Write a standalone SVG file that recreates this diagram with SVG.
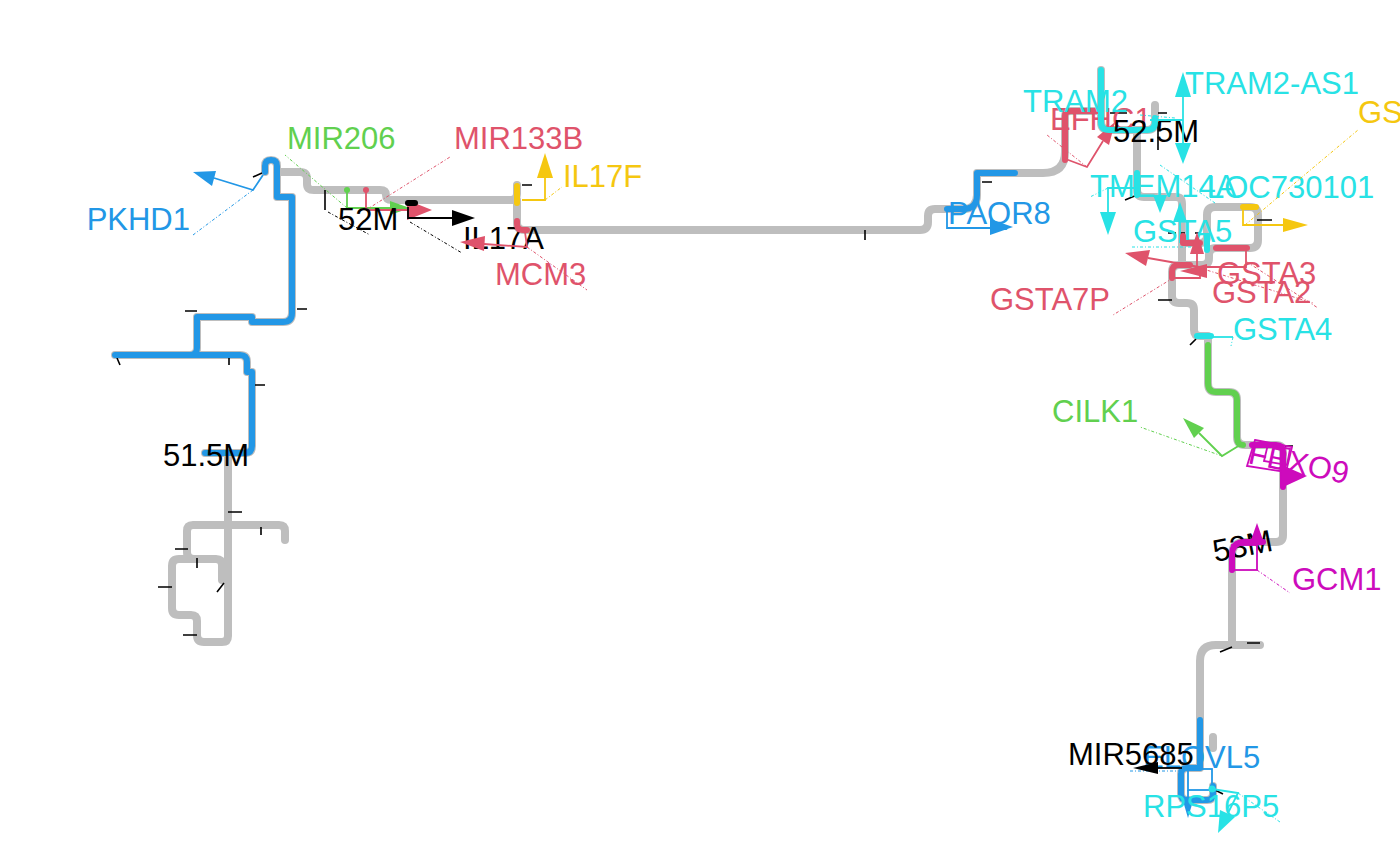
<svg xmlns="http://www.w3.org/2000/svg" width="1400" height="866" viewBox="0 0 1400 866">
<style>
.p{fill:none;stroke:#BEBEBE;stroke-width:8;stroke-linecap:round;stroke-linejoin:round}
.s{fill:none;stroke-width:6;stroke-linecap:round;stroke-linejoin:round}
.t{stroke:#000;stroke-width:1.6;fill:none}
.l{fill:none;stroke-width:1;stroke-dasharray:3 2 1 2}
.g{fill:none;stroke-width:1.8}
text{font-family:"Liberation Sans",Arial,Helvetica,sans-serif;font-size:31px}
.blue{stroke:#2297E6}.green{stroke:#61D04F}.red{stroke:#DF536B}.cyan{stroke:#28E2E5}.mag{stroke:#CD0BBC}.yel{stroke:#F5C710}.blk{stroke:#000}
.fblue{fill:#2297E6}.fgreen{fill:#61D04F}.fred{fill:#DF536B}.fcyan{fill:#28E2E5}.fmag{fill:#CD0BBC}.fyel{fill:#F5C710}.fblk{fill:#000}
</style>
<rect width="1400" height="866" fill="#fff"/>
<g id="connectors">
<path class="p" d="M285,540 V531 Q285,525 279,525 H193 Q187,525 187,531 V552 Q187,559 194,559"/>
<path class="p" d="M222,580 V565 Q222,559 216,559 H179 Q172,559 172,566 V608 Q172,615 179,615 H191 Q197,615 197,621 V635 Q197,642 204,642 H222 Q228,642 228,636 V453"/>
<path class="p" d="M205,453 H245 Q252,453 252,446 V372 H247 V362 Q247,355 240,355 H115 M190,355 Q197,355 197,348 V317 H252 V322 H283 Q292,322 292,313 V197 H277 V166 Q277,160 271,160 Q265,160 265,166 V172"/>
<path class="p" d="M277,172 H300 Q307,172 307,179 V184 Q307,190 314,190 H380 Q386,190 386,195 Q386,200 392,200 H511 Q517,200 517,194 V185 M517,200 V223 Q517,230 524,230 H920 Q928,230 928,222 V216 Q928,209 935,209 H963 Q977,209 977,195 V173 H1043 Q1065,173 1065,152 V116 Q1065,111 1071,111 H1101"/>
<path class="p" d="M1101,70 V122 Q1101,130 1109,130 H1147 Q1155,130 1155,122 V105 M1137,130 V190 Q1137,197 1144,197 H1176 Q1182,197 1182,204 V262"/>
<path class="p" d="M1182,243 H1200 Q1207,243 1207,236 V215 Q1207,207 1215,207 H1250 Q1258,207 1258,215 V240 Q1258,248 1250,248 H1216 Q1209,248 1209,255 V258 Q1209,265 1202,265 H1179 Q1172,265 1172,272 V296 Q1172,303 1179,303 H1187 Q1194,303 1194,310 V330 Q1194,336 1200,336 H1208 V383 Q1208,392 1216,392 H1229 Q1237,392 1237,400 V437 Q1237,445 1245,445 H1276 Q1283,445 1283,452 V535 Q1283,542 1276,542 H1245 Q1232,542 1232,555 V645 M1260,645 H1216 Q1200,645 1200,661 V768 H1187 Q1181,768 1181,774 V794 Q1181,800 1187,800 H1207 Q1213,800 1213,794 V786 M1213,737 V748"/>
</g>
<g id="ticks">
<path class="t" d="M253,177 L262,173 M280,198 H290 M297,309 H307 M185,311 H197 M117,358 L120,365 M229,358 V365 M255,385 H265 M228,512 H242 M261,527 V535 M175,549 H188 M197,558 V568 M158,587 H172 M217,592 L224,583 M183,635 H197 M325,190 V210 M522,185 H532 M865,230 V240 M982,182 H992 M1110,113 H1127 M1158,113 H1167 M1158,122 V150 M1125,200 L1137,195 M1168,233 H1176 M1180,233 H1185 M1195,233 H1200 M1257,220 H1272 M1158,300 H1172 M1190,345 L1196,339 M1285,446 H1293 M1247,643 H1260 M1220,652 L1232,647 M1215,790 L1223,794"/>
<path class="l blk" d="M328,212 L370,235"/>
</g>
<g id="PKHD1">
<path class="s blue" d="M205,453 H245 Q252,453 252,446 V372 H247 V362 Q247,355 240,355 H115 M190,355 Q197,355 197,348 V317 H252 V322 H283 Q292,322 292,313 V197 H277 V166 Q277,160 271,160 Q265,160 265,166 V172"/>
<path class="g blue" d="M263,175 L253,190 L214,178"/>
<polygon class="fblue" points="193,172 216,171 212,186"/>
<path class="l blue" d="M253,190 L193,235"/>
<text x="190" y="230" text-anchor="end" fill="#2297E6">PKHD1</text>
</g>
<g id="MIR206">
<path class="g green" d="M347,208 V192 M347,208 H392"/>
<circle cx="347" cy="190" r="3" class="fgreen"/>
<polygon class="fgreen" points="410,208 390,201 390,215"/>
<path class="l green" d="M347,208 L285,155"/>
<text x="287" y="149" fill="#61D04F">MIR206</text>
</g>
<g id="MIR133B">
<path class="g red" d="M366,210 V192 M366,210 H408"/>
<circle cx="366" cy="190" r="3" class="fred"/>
<polygon class="fred" points="432,210 407,200 407,220"/>
<path class="l red" d="M366,210 L450,157"/>
<text x="454" y="149" fill="#DF536B">MIR133B</text>
</g>
<g id="label-52M">
<text x="338" y="230" fill="#000">52M</text>
</g>
<g id="IL17A">
<path class="s blk" d="M408,203 H415"/>
<path class="g blk" d="M408,207 V218 H452"/>
<polygon class="fblk" points="475,218 452,210 452,226"/>
<path class="l blk" d="M410,222 L462,253"/>
<text x="463" y="249" fill="#000">IL17A</text>
</g>
<g id="IL17F">
<path class="s yel" d="M517,186 V203"/>
<path class="g yel" d="M522,200 H545 V176"/>
<polygon class="fyel" points="545,153 537,178 553,178"/>
<path class="l yel" d="M545,200 L562,187"/>
<text x="563" y="187" fill="#F5C710">IL17F</text>
</g>
<g id="MCM3">
<path class="s red" d="M517,221 V224 Q517,230 523,230 H527"/>
<path class="g red" d="M525,232 L527,247 L484,244"/>
<polygon class="fred" points="460,242 485,236 484,251"/>
<path class="l red" d="M527,247 L587,290"/>
<text x="495" y="285" fill="#DF536B">MCM3</text>
</g>
<g id="PAQR8">
<path class="s blue" d="M947,209 H963 Q977,209 977,195 V173 H1015"/>
<path class="g blue" d="M947,207 V228 H991"/>
<polygon class="fblue" points="1013,227 990,219 990,235"/>
<text x="948" y="224" fill="#2297E6">PAQR8</text>
</g>
<g id="EFHC1">
<path class="s red" d="M1065,160 V116 Q1065,111 1071,111 H1097"/>
<path class="g red" d="M1063,158 L1087,167 L1103,141"/>
<polygon class="fred" points="1115,122 1109,145 1097,137"/>
<path class="l red" d="M1087,167 L1047,135"/>
<text x="1050" y="130" fill="#DF536B">EFHC1</text>
</g>
<g id="TRAM2">
<text x="1023" y="112" fill="#28E2E5">TRAM2</text>
<path class="s cyan" d="M1101,70 V122 Q1101,130 1109,130 H1147 Q1155,130 1155,122 V118"/>
<path class="l cyan" d="M1140,115 L1175,118"/>
</g>
<g id="label-52.5M">
<text x="1113" y="142" fill="#000">52.5M</text>
</g>
<g id="TRAM2-AS1">
<path class="g cyan" d="M1150,120 H1183 M1183,97 V146"/>
<polygon class="fcyan" points="1183,72 1175,97 1191,97"/>
<polygon class="fcyan" points="1183,164 1175,143 1191,143"/>
<text x="1185" y="94" fill="#28E2E5">TRAM2-AS1</text>
</g>
<g id="TMEM14A">
<path class="s cyan" d="M1137,173 V195"/>
<path class="g cyan" d="M1137,188 H1108 V212 M1160,187 V196"/>
<polygon class="fcyan" points="1108,235 1100,212 1116,212"/>
<polygon class="fcyan" points="1160,213 1153,195 1167,195"/>
<path class="l cyan" d="M1108,188 L1090,197"/>
<text x="1090" y="197" fill="#28E2E5">TMEM14A</text>
</g>
<g id="LOC730101">
<path class="l cyan" d="M1160,165 L1215,203"/>
<text x="1207" y="198" fill="#28E2E5">LOC730101</text>
</g>
<g id="GS">
<path class="s yel" d="M1243,207 H1256"/>
<path class="g yel" d="M1243,207 V225 H1284"/>
<polygon class="fyel" points="1308,225 1283,218 1283,232"/>
<path class="l yel" d="M1245,225 L1358,130"/>
<text x="1358" y="123" fill="#F5C710">GS</text>
</g>
<g id="GSTA5">
<path class="s cyan" d="M1207,236 V250"/>
<path class="g cyan" d="M1180,243 V220"/>
<polygon class="fcyan" points="1180,202 1173,222 1187,222"/>
<path class="l cyan" d="M1132,247 L1207,247"/>
<text x="1133" y="242" fill="#28E2E5">GSTA5</text>
</g>
<g id="GSTA3">
<path class="s red" d="M1216,248 H1247"/>
<path class="g red" d="M1246,248 V267 H1206"/>
<polygon class="fred" points="1180,271 1207,264 1207,278"/>
<path class="l red" d="M1247,262 L1318,308"/>
<text x="1217" y="284" fill="#DF536B">GSTA3</text>
</g>
<g id="GSTA2">
<path class="s red" d="M1183,236 V243 H1200"/>
<path class="g red" d="M1197,268 V252"/>
<polygon class="fred" points="1197,232 1190,254 1204,254"/>
<path class="l red" d="M1200,268 L1313,303"/>
<text x="1212" y="303" fill="#DF536B">GSTA2</text>
</g>
<g id="GSTA7P">
<path class="s red" d="M1190,265 H1179 Q1172,265 1172,272 V278"/>
<path class="g red" d="M1172,278 H1200 V266 M1205,268 L1148,258"/>
<polygon class="fred" points="1125,253 1150,250 1146,266"/>
<path class="l red" d="M1173,278 L1113,315"/>
<text x="990" y="310" fill="#DF536B">GSTA7P</text>
</g>
<g id="GSTA4">
<path class="s cyan" d="M1197,336 H1211"/>
<path class="g cyan" d="M1210,337 H1233"/>
<path class="l cyan" d="M1233,337 L1231,346"/>
<text x="1233" y="340" fill="#28E2E5">GSTA4</text>
</g>
<g id="CILK1">
<path class="s green" d="M1208,345 V383 Q1208,392 1216,392 H1229 Q1237,392 1237,400 V437 Q1237,445 1243,445"/>
<path class="g green" d="M1240,445 L1222,456 L1199,433"/>
<polygon class="fgreen" points="1183,418 1204,428 1194,438"/>
<path class="l green" d="M1222,456 L1140,427"/>
<text x="1052" y="422" fill="#61D04F">CILK1</text>
</g>
<g id="FBXO9">
<path class="s mag" d="M1252,445 H1276 Q1283,445 1283,452 V487"/>
<polygon class="g mag" points="1255,440 1292,447 1286,472 1247,466"/>
<polygon class="g mag" points="1268,444 1290,449 1287,465 1264,461"/>
<polygon class="fmag" points="1307,476 1282,465 1281,488"/>
<text x="1247" y="463" fill="#CD0BBC" transform="rotate(12 1247 463)">FBXO9</text>
</g>
<g id="label-53M">
<text x="1215" y="562" fill="#000" transform="rotate(-11 1215 562)">53M</text>
</g>
<g id="GCM1">
<path class="s mag" d="M1263,542 H1245 Q1232,542 1232,555 V570"/>
<rect x="1232" y="545" width="25" height="25" class="g mag"/>
<path class="g mag" d="M1257,545 V540"/>
<polygon class="fmag" points="1257,523 1250,543 1264,543"/>
<path class="l mag" d="M1257,570 L1290,593"/>
<text x="1292" y="590" fill="#CD0BBC">GCM1</text>
</g>
<g id="ELOVL5">
<path class="s blue" d="M1200,720 V768 H1187 Q1181,768 1181,774 V794 Q1181,800 1187,800 H1207 Q1213,800 1213,794 V786"/>
<rect x="1188" y="769" width="24" height="21" class="g blue"/>
<path class="g blue" d="M1188,790 V802"/>
<polygon class="fblue" points="1188,818 1183,801 1193,801"/>
<path class="l blue" d="M1130,771 L1185,771"/>
<text x="1143" y="768" fill="#2297E6">ELOVL5</text>
</g>
<g id="MIR5685">
<path class="g blk" d="M1156,768 H1182"/>
<polygon class="fblk" points="1133,768 1158,762 1158,774"/>
<text x="1068" y="765" fill="#000">MIR5685</text>
</g>
<g id="RPS16P5">
<circle cx="1212" cy="789" r="3.5" class="fcyan"/>
<path class="g cyan" d="M1212,789 L1238,793 L1228,813"/>
<polygon class="fcyan" points="1218,833 1235,817 1220,810"/>
<path class="l cyan" d="M1238,793 L1280,822"/>
<text x="1143" y="817" fill="#28E2E5">RPS16P5</text>
</g>
<g id="label-51.5M">
<text x="163" y="466" fill="#000">51.5M</text>
</g>
</svg>
